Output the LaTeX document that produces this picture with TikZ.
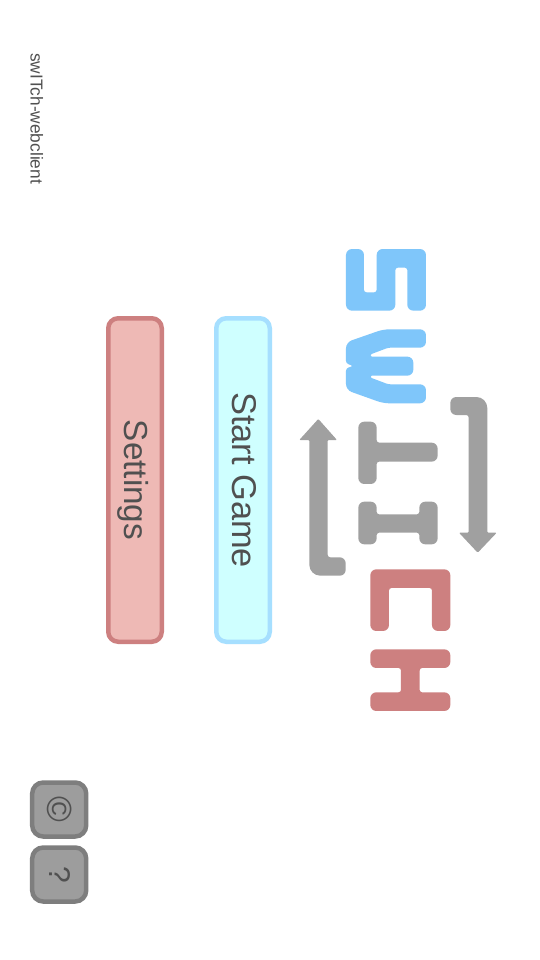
\documentclass[tikz,border=0pt]{standalone}
\usepackage{fontspec}
\setmainfont{Liberation Sans}
\definecolor{lblue}{HTML}{7FC6FA}
\definecolor{lgray}{HTML}{A0A0A0}
\definecolor{lred}{HTML}{CD8080}
\definecolor{txt}{HTML}{505050}
\definecolor{setfill}{HTML}{EEB9B5}
\definecolor{startfill}{HTML}{CFFFFF}
\definecolor{startedge}{HTML}{A6DFFF}
\definecolor{smallfill}{HTML}{9D9D9D}
\definecolor{smalledge}{HTML}{7E7E7E}
\tikzset{
  cv/.style={rounded corners=6pt},
  cc/.style={rounded corners=2.5pt},
  cs/.style={rounded corners=1pt},
  letterblue/.style={fill=lblue,cv},
  lettergray/.style={fill=lgray,cv},
  letterred/.style={fill=lred,cv},
  bigbtn/.style={rotate=-90,minimum width=323.5pt,minimum height=53.5pt,inner sep=0pt,
    line width=4.5pt,rounded corners=10pt,text=txt,
    text height=24pt,text depth=2pt},
  smallbtn/.style={rotate=-90,minimum width=54pt,minimum height=54pt,inner sep=0pt,
    line width=4.5pt,rounded corners=11pt,draw=smalledge,fill=smallfill,text=txt},
}
\begin{document}
\begin{tikzpicture}[x=1pt,y=-1pt]
\useasboundingbox (0,0) rectangle (540,960);
\fill[white] (0,0) rectangle (540,960);

\node[rotate=-90,anchor=base west,inner sep=0pt,text=txt,font=\fontsize{17.3}{17}\selectfont] (title) at (30.5,53) {swITch-webclient};

\node[bigbtn,draw=lred,fill=setfill,font=\fontsize{33.3}{33}\selectfont] (settings) at (135,480) {Settings};
\node[bigbtn,draw=startedge,fill=startfill,font=\fontsize{34.4}{33}\selectfont] (start) at (243,480) {Start Game};

\node[smallbtn,font=\fontsize{35}{35}\selectfont,text height=26pt,text depth=1.6pt] (copy) at (59.2,809.5) {©};
\node[smallbtn,font=\fontsize{30}{30}\selectfont,text height=22pt,text depth=1.6pt] (help) at (59.2,874.5) {?};

\begin{scope}[shift={(290,240)},x=0.3333pt,y=-0.3333pt]
% S
\path[letterblue] (168,27) -- (222,27) [cc] -- (222,157) -- (260,157) [cv] -- (260,27) -- (408,27) -- (408,212) -- (352,212) [cc] -- (352,83) -- (316,83) [cv] -- (316,212) -- (168,212) -- cycle;
% W
\path[letterblue] (280,268) -- (408,268) -- (408,323) [cc] -- (295,323) [cs] -- (242,343) -- (242,350) [cv] -- (370,350) -- (370,407) [cs] -- (242,407) -- (242,413) [cc] -- (295,433) [cv] -- (408,433) -- (408,490) -- (280,490) -- (168,450) [cc] -- (168,385) -- (190,378) -- (168,370) [cv] -- (168,307) -- cycle;
% T
\path[lettergray] (205,545) -- (260,545) [cc] -- (260,608) [cv] -- (443,608) -- (443,665) [cc] -- (260,665) [cv] -- (260,732) -- (205,732) -- cycle;
\end{scope}
\begin{scope}[shift={(290,480)},x=0.3333pt,y=-0.3333pt]
% I
\path[lettergray] (205,65) -- (260,65) [cc] -- (260,103) -- (388,103) [cv] -- (388,65) -- (443,65) -- (443,193) -- (388,193) [cc] -- (388,158) -- (260,158) [cv] -- (260,193) -- (205,193) -- cycle;
% C
\path[letterred] (241,268) -- (481,268) -- (481,453) -- (426,453) [cc] -- (426,324) -- (297,324) [cv] -- (297,453) -- (241,453) -- cycle;
% H
\path[letterred] (241,508) -- (481,508) -- (481,564) [cc] -- (389,564) -- (389,637) [cv] -- (481,637) -- (481,693) -- (241,693) -- (241,637) [cc] -- (333,637) -- (333,564) [cv] -- (241,564) -- cycle;
\end{scope}

% right arrow (down)
\fill[lgray,cv] (450.3,415) -- (450.3,397) [rounded corners=11pt] -- (487.3,397) [cs] -- (487.3,532.7) -- (496.7,532.7) -- (477.7,552.7) -- (459,532.7) -- (468.7,532.7) [cc] -- (468.7,415) [cv] -- cycle;
% left arrow (up)
\fill[lgray,cs] (309.3,440) -- (299.3,440) -- (318.3,419) -- (337,440) -- (327.7,440) [cc] -- (327.7,557.3) [cv] -- (345.7,557.3) -- (345.7,575.7) [rounded corners=11pt] -- (309.3,575.7) [cs] -- cycle;
\end{tikzpicture}
\end{document}
